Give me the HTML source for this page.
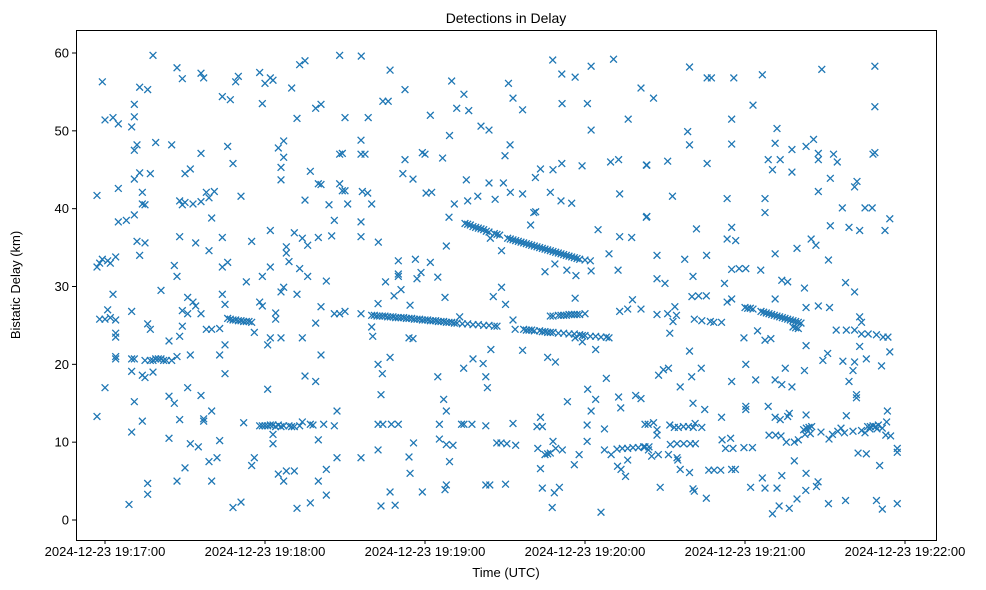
<!DOCTYPE html>
<html><head><meta charset="utf-8"><title>Detections in Delay</title>
<style>
html,body{margin:0;padding:0;background:#fff;}
svg{display:block;font-family:"Liberation Sans","DejaVu Sans",sans-serif;}
</style></head>
<body>
<svg id="chart" width="986" height="590" viewBox="0 0 986 590" xmlns="http://www.w3.org/2000/svg">
<rect x="0" y="0" width="986" height="590" fill="#fff"/>
<text x="506" y="23" text-anchor="middle" font-size="14" fill="#000">Detections in Delay</text>
<g id="marks"></g>
<rect x="76.5" y="30.5" width="860" height="510" fill="none" stroke="#000" stroke-width="1"/>
<g id="xaxis"></g>
<g id="yaxis"></g>
<text x="506" y="577" text-anchor="middle" font-size="13" fill="#000">Time (UTC)</text>
<text x="0" y="0" transform="translate(20,285) rotate(-90)" text-anchor="middle" font-size="13" fill="#000">Bistatic Delay (km)</text>
</svg>
<script>
// time in seconds after 2024-12-23 19:17:00 UTC, delay in km
const xTickSeconds = [0, 60, 120, 180, 240, 300];
const xTickLabels = ["2024-12-23 19:17:00","2024-12-23 19:18:00","2024-12-23 19:19:00","2024-12-23 19:20:00","2024-12-23 19:21:00","2024-12-23 19:22:00"];
const yTickValues = [0, 10, 20, 30, 40, 50, 60];
const yTickLabels = ["0","10","20","30","40","50","60"];

const scatterDetections = [
[-3,41.7],[-3,13.3],[-3,32.5],[-2,33],[-2,25.8],[-1,33.5],[-1,56.3],[0,51.4],[0,17],[0,25.8],[1,27],[1,33.3],[2,26],[2,33],[3,51.7],[3,29],[4,25.7],[4,33.8],[4,23.5],[4,24],[4,21],[4,20.7],[5,42.6],[5,50.9],[5,38.3],[8,38.5],[9,2],[10,11.3],[10,50.5],[10,20.7],[10,19.1],[10,26.8],[11,47.5],[11,53.4],[11,51.8],[11,43.8],[11,39.2],[11,15.2],[11,20.7],[12,35.8],[12,48.2],[13,44.6],[13,55.6],[13,34],[14,12.7],[14,40.6],[14,42.1],[14,18.6],[15,40.5],[15,35.6],[15,20.5],[15,18.3],[16,55.3],[16,25.2],[16,4.7],[16,3.3],[17,44.5],[17,24.5],[17,20.5],[18,59.7],[18,20.5],[18,19],[19,48.5],[19,20.7],[20,20.7],[21,20.7],[21,29.5],[22,20.5],[23,20.5],[24,15.9],[24,23],[24,10.5],[25,48.2],[25,20.5],[26,32.7],[26,15],[27,58.1],[27,5],[27,31.3],[27,21],[28,36.4],[28,41],[28,12.9],[28,23.6],[29,56.7],[29,40.5],[29,26.9],[29,24.9],[30,40.8],[30,6.7],[30,44.5],[31,28.6],[31,17],[31,26.5],[32,45.1],[32,21.2],[32,9.8],[33,28],[33,40.6],[34,27.5],[34,35.6],[35,9.4],[36,57.4],[36,47.1],[36,40.9],[36,26.5],[36,16],[37,56.8],[37,13],[37,12.7],[38,24.5],[38,42.1],[39,41.4],[39,34.6],[39,7.5],[40,5],[40,24.5],[40,38.8],[40,14],[41,42.2],[42,8],[43,24.6],[43,21.2],[43,10.2],[44,54.4],[44,29],[44,32.5],[44,36.3],[45,18.8],[45,27.7],[45,22.5],[46,33.1],[46,48],[47,54],[48,45.8],[48,1.6],[49,56.3],[50,57],[51,41.6],[51,2.3],[52,12.5],[53,30.6],[55,7],[55,35.8],[56,8],[56,24.1],[58,57.5],[58,28],[59,27.5],[59,53.5],[59,31.3],[60,56.1],[61,16.8],[61,22.5],[62,56.8],[62,32.5],[62,37.2],[62,23.4],[63,56.5],[63,11],[63,9.8],[64,26.6],[64,25.8],[65,47.8],[65,5.9],[66,45.3],[66,43.7],[66,23.4],[66,29.3],[67,46.6],[67,29.9],[67,48.7],[67,5],[68,35.1],[68,34.3],[68,6.3],[69,33.2],[70,55.5],[71,36.9],[71,6.3],[72,51.6],[72,29],[72,1.5],[73,32.3],[73,58.5],[74,36.2],[74,23.4],[75,59],[75,41.1],[75,18.5],[76,35.3],[76,31.3],[77,2.2],[77,44.8],[79,25.3],[79,52.9],[79,17.8],[80,5],[80,10.3],[80,36.3],[80,43.2],[81,21.2],[81,53.4],[81,43.1],[81,27.4],[82,12.3],[83,3.2],[83,6.5],[83,30.7],[84,40.5],[85,36.5],[86,38.5],[86,26.5],[86,12.1],[87,14],[87,8],[88,26.5],[88,47],[88,59.7],[88,43.2],[89,47.1],[89,42.3],[90,51.7],[90,42.3],[90,26.8],[91,40.6],
[96.1,59.6],[106.9,57.8],[112.5,55.3],[104.2,53.8],[106.2,53.8],[98.7,51.7],[122,52],[130,56.4],[134.6,54.7],[131.9,52.9],[136.4,52.6],[129.2,49.4],[141,50.6],[144,50.1],[151.3,56.1],[153,54.2],[156.6,52.7],[151.9,48.2],[150,46.8],[167.9,59.1],[171.3,57.3],[176.3,56.9],[182.3,58.3],[190.7,59.2],[171.4,53.5],[180.9,53.5],[182.3,50.1],[201,55.5],[196.2,51.5],[112.5,46.3],[119,47.2],[120,47],[126.6,46.5],[111.7,44.5],[115.5,43.8],[120.4,42],[122.5,42.1],[96,47],[97.5,47],[96,48.8],[96.5,42.2],[98.5,42],[100,40.6],[96,38.3],[96,36.4],[102.5,35.7],[135.5,43.7],[144,43.3],[149.4,43.3],[152,42.1],[156.6,41.9],[131,40.6],[136,41],[139.8,41.6],[146.3,41.2],[129,38.9],[128,35.2],[161.4,44],[163.3,45.1],[168,45],[171.3,45.8],[178.9,45.5],[189.6,46],[192.6,46.3],[203.2,45.6],[167,42.1],[171,41],[175,40.7],[193,41.9],[160.8,39.5],[161.5,39.6],[159.6,37.9],[203.2,39],[148.7,34.6],[144.5,36.2],[184.9,37.3],[193,36.4],[197.5,36.3],[189,34.2],[165,31.9],[168.7,32.9],[173.2,32.1],[176.6,31.4],[182.3,32],[192.4,32.1],[110,33.3],[116.4,33.5],[122,33.1],[105.2,30.6],[110,31.3],[110,31.6],[118.5,31.8],[117,31],[124.8,31.2],[108.4,28.8],[111,29.6],[114.4,27.6],[102.4,27.8],[127.5,28.6],[145.6,28.7],[148.7,29.9],[150.2,27.7],[176.3,28.5],[197.8,28.3],[96,26.5],[100,24.8],[100.4,23.6],[114,23.4],[115.5,23.3],[133,26.1],[153,25.7],[153.8,24.5],[176.3,23.4],[179,22.9],[184,21.9],[156.6,21.8],[193,26.8],[196,27.1],[201,27.1],[102.4,20],[106.9,20.9],[104,18.8],[124.8,18.4],[134.5,19.5],[138,20.7],[141.8,20.1],[142.8,18.4],[143.4,17],[144.7,21.9],[166,20.9],[168.9,20.3],[188,18.2],[103.5,16.1],[127,15.5],[128,14],[173.4,15.2],[181,16.8],[184,15.5],[182.3,14],[192.6,15.8],[193.4,14.4],[199,16],[201,15.6],[102.4,12.3],[104.2,12.3],[107.4,12.3],[110,12.3],[125.4,12.3],[133.7,12.3],[134.6,12.3],[137.6,12.3],[142.8,12.1],[153,12.4],[163.3,13.2],[162,12],[164,12],[180.8,12.2],[187.3,11.7],[203.7,12.3],[102.4,9],[115.7,9.9],[125.4,10.4],[128,9.7],[130.5,9.6],[146.9,9.9],[148.5,9.9],[150.7,9.8],[154,9.6],[162.3,9.2],[165,8.4],[166,8.5],[167,8.6],[169,9.2],[171.5,9],[168,10.1],[177.8,8.4],[176,7.1],[180.8,10.1],[187.3,9],[189.8,8.4],[192.2,6.9],[193.5,6.5],[195.2,5.6],[196,7.7],[114,8.1],[114.4,6],[129.2,7.5],[163.3,6.6],[96,8],[106.9,3.6],[119,3.6],[103.5,1.8],[108.8,1.9],[128,4.5],[127.5,3.9],[142.8,4.5],[144.3,4.5],[150.2,4.6],[164,4.1],[168.5,3.5],[170.4,4.2],[167.7,1.6],[186,1],
[219.2,58.2],[225.8,56.8],[227.4,56.8],[235.8,56.8],[246.5,57.2],[268.8,57.9],[288.7,58.3],[205.7,54.2],[243,53.3],[288.7,53.1],[235,51.5],[218.5,49.9],[219.2,48.2],[235,48.3],[252,50.3],[251.3,48.4],[257.6,47.6],[262.9,48],[265.7,48.9],[267.5,47.1],[267.5,46.3],[273.2,47],[274.6,46],[288,47],[288.7,47.2],[248.7,46.3],[253.2,46.3],[250.3,45],[257.6,44.7],[203,45.6],[211,46.1],[225.8,45.8],[272,43.9],[281.1,42.8],[282,43.5],[267.5,42.2],[212.8,41.6],[233.3,41.3],[247.5,41.3],[247.5,39.5],[203,38.9],[276.5,40.1],[285,40.1],[287.7,40.1],[294.3,38.7],[292.5,37.2],[272,37.8],[279,37.6],[283,37.2],[221.8,37.4],[235,37.6],[233.3,36.1],[236.5,35.9],[207,34],[217.4,33.5],[225.6,34],[251.3,34.2],[259.5,34.9],[264.8,36.1],[266.6,35.3],[271.3,33.4],[235,32.2],[237.8,32.3],[240.3,32.3],[245.9,32.1],[207,31],[210,30.4],[220.5,31.3],[232.3,30.4],[253.8,30.8],[256,30.6],[262.3,29.8],[277.7,30.5],[281.1,29.3],[220.1,28.7],[222.6,28.8],[225.5,28.8],[233.3,28],[235,28.4],[251.3,28.4],[207,26.4],[211,26.5],[213.7,27.4],[214.3,26.3],[213,25.5],[211.8,24],[221,25.8],[223.8,25.6],[227,25.5],[228.3,25.4],[231.2,25.4],[262.9,27.3],[267.5,27.5],[271.7,27.3],[274.2,24.4],[278,24.4],[281.1,24.4],[283.7,23.9],[286.2,23.9],[289.3,23.8],[291.8,23.5],[293.6,23.5],[283,26.1],[283.7,25.4],[262.9,22.4],[239.6,23.4],[244.7,24.3],[247.5,23.1],[249.7,23.3],[219.2,21.7],[283,22.3],[294.3,21.6],[207.6,18.6],[209.4,19.3],[211.3,19.5],[220,18.4],[223.6,19.5],[215.7,17.1],[240.3,20],[235,17.8],[244,18],[251.3,18],[253.8,17.4],[257.6,17.1],[255.1,19.5],[262.3,19.2],[269.2,20.5],[271,21.4],[276.7,20.4],[281.1,20.3],[285.5,20.7],[291.2,19.8],[280.5,19.2],[279,17.8],[281.8,16.1],[281.8,15.7],[240.3,14.6],[240.3,14.2],[248.7,14.6],[220.5,15],[224.9,14.2],[231.2,13.2],[251.3,13.2],[253.2,12.9],[256,13.3],[256.6,13.7],[262.9,13.5],[293.4,14],[293.1,12.6],[278,13.4],[202.5,12.3],[205.7,12.5],[207,11.6],[207,10.9],[211.8,12.2],[213.5,11.9],[215,11.9],[216.9,12],[218.8,12],[220.6,11.9],[221.3,12.4],[223.8,11.9],[249,10.9],[251.5,10.9],[253.5,10.8],[255.5,10],[258.5,10],[260,10.3],[262.5,11],[264.5,11.1],[268.5,11.3],[271.5,10.4],[272.8,11],[274.8,11.4],[276,11.8],[277.3,11.2],[280.5,11.4],[283.7,11.5],[285,11.2],[286.8,11.7],[289.5,11.7],[291.5,11.8],[292.8,10.9],[294.6,10.8],[202.5,9.4],[203.8,9],[205,8.2],[207.5,8.4],[211.3,8.4],[214.5,8],[212,9.7],[214.5,9.8],[217,9.8],[219.5,9.8],[221.4,9.8],[231.4,10.3],[234.6,10.5],[232.7,9.2],[235.5,9.2],[239.6,9.3],[242.8,9.3],[215.7,6.5],[219.2,6.1],[226.4,6.4],[228.4,6.4],[230.9,6.4],[235,6.5],[236.4,6.5],[214.8,7.7],[258.5,7.6],[262.9,6],[282.4,8.6],[285.5,8.5],[290.5,7],[297.1,9.2],[297.1,8.7],[208.2,4.2],[220.5,4],[221,3.7],[225.5,2.8],[242.1,4.2],[246.5,5.4],[247.5,4.1],[252,4.1],[253.8,5.7],[262.8,3.8],[266.8,4.3],[267.4,4.9],[250.3,0.8],[252.8,1.8],[256.6,1.5],[259.5,2.7],[271.3,2.1],[277.7,2.5],[289.3,2.5],[291.5,1.4],[297.1,2.1]
];

const trackDetections = [
[135,38.1],[136,38],[137,37.9],[138,37.7],[139,37.6],[140,37.5],[141,37.4],[142,37.3],[143,37.1],[144,37],[146,36.8],[147,36.7],[148,36.6],[151,36.2],[152,36.1],[153,36],[154,35.9],[155,35.8],[156,35.7],[157,35.6],[158,35.5],[159,35.4],[160,35.3],[161,35.2],[162,35.1],[163,35],[164,34.9],[165,34.8],[166,34.7],[167,34.6],[168,34.5],[169,34.4],[170,34.3],[171,34.2],[172,34.1],[173,34],[174,33.9],[175,33.8],[176,33.7],[177,33.6],[178,33.5],[180,33.4],[182,33.3],
[100,26.3],[101,26.3],[102,26.2],[103,26.2],[104,26.2],[105,26.2],[106,26.1],[107,26.1],[108,26.1],[109,26],[110,26],[111,26],[112,26],[113,25.9],[114,25.9],[115,25.9],[116,25.8],[117,25.8],[118,25.8],[119,25.7],[120,25.7],[121,25.7],[122,25.6],[123,25.6],[124,25.6],[125,25.5],[126,25.5],[127,25.5],[128,25.4],[129,25.4],[130,25.4],[131,25.3],[132,25.3],[134,25.2],[136,25.2],[138,25.1],[140,25.1],[142,25],[144,25],[146,24.9],[147,24.9],
[157,24.5],[158,24.4],[159,24.4],[160,24.4],[161,24.3],[163,24.3],[164,24.2],[165,24.2],[166,24.1],[167,24.1],[168,24.1],[170,24],[172,24],[174,23.9],[176,23.9],[178,23.8],[179,23.7],[180,23.7],[182,23.6],[184,23.6],[186,23.5],[188,23.5],[189,23.4],
[167,26.2],[168,26.2],[170,26.3],[171,26.3],[172,26.3],[173,26.3],[174,26.4],[175,26.4],[176,26.4],[177,26.4],[178,26.4],[180,26.5],
[46,25.9],[47,25.8],[48,25.7],[49,25.7],[50,25.6],[51,25.6],[52,25.5],[53,25.5],[54,25.5],[55,25.4],
[58,12.1],[59,12.1],[60,12.1],[61,12.1],[62,12.2],[63,12.2],[64,12],[65,12.2],[66,12],[67,12.1],[69,12.1],[70,12],[71,12],[73,12.1],[74,12.6],[77,12.3],[78,12.2],
[192,9.1],[194,9.2],[196,9.2],[198,9.3],[200,9.3],[202,9.4],[204,9.4],
[246,26.8],[247,26.7],[248,26.6],[249,26.5],[250,26.4],[251,26.3],[252,26.2],[253,26.1],[254,26],[255,25.9],[256,25.8],[257,25.7],[258,25.6],[259,25.5],[260,25.4],[261,25.3],[258,24.8],[259,24.7],[260,24.6],
[240,27.3],[241,27.2],[242,27.2],[243,27.1],
[262,11.6],[263,11.8],[264,11.9],[265,12],[286,12],[287,12],[288,12.1],[289,12],[290,12.2]
];

const NS = "http://www.w3.org/2000/svg";
const plot = {left: 76, right: 936, top: 30, bottom: 540};
function xScale(t){ return 105 + (t - 0) * (160 / 60); }
function yScale(k){ return 520 - k * (467 / 60); }

const marks = document.getElementById('marks');
function drawX(p, i, name){
  const cx = xScale(p[0]), cy = yScale(p[1]), h = 3.4;
  const path = document.createElementNS(NS, 'path');
  path.setAttribute('d', `M${cx-h},${cy-h}L${cx+h},${cy+h}M${cx-h},${cy+h}L${cx+h},${cy-h}`);
  path.setAttribute('stroke', '#1f77b4');
  path.setAttribute('stroke-width', '1.3');
  path.setAttribute('fill', 'none');
  
  
  marks.appendChild(path);
}
scatterDetections.forEach((p, i) => drawX(p, i, 'detection-marker'));
trackDetections.forEach((p, i) => drawX(p, i, 'track-detection-marker'));

const xaxis = document.getElementById('xaxis');
xTickSeconds.forEach((t, i) => {
  const x = xScale(t);
  const ln = document.createElementNS(NS, 'line');
  ln.setAttribute('x1', x); ln.setAttribute('x2', x);
  ln.setAttribute('y1', plot.bottom); ln.setAttribute('y2', plot.bottom + 4);
  ln.setAttribute('stroke', '#000');
  
  
  xaxis.appendChild(ln);
  const tx = document.createElementNS(NS, 'text');
  tx.setAttribute('x', x); tx.setAttribute('y', plot.bottom + 16);
  tx.setAttribute('text-anchor', 'middle');
  tx.setAttribute('font-size', '13');
  tx.textContent = xTickLabels[i];
  
  
  xaxis.appendChild(tx);
});
const yaxis = document.getElementById('yaxis');
yTickValues.forEach((v, i) => {
  const y = yScale(v);
  const ln = document.createElementNS(NS, 'line');
  ln.setAttribute('x1', plot.left - 4); ln.setAttribute('x2', plot.left);
  ln.setAttribute('y1', y); ln.setAttribute('y2', y);
  ln.setAttribute('stroke', '#000');
  
  
  yaxis.appendChild(ln);
  const tx = document.createElementNS(NS, 'text');
  tx.setAttribute('x', plot.left - 7); tx.setAttribute('y', y + 4.5);
  tx.setAttribute('text-anchor', 'end');
  tx.setAttribute('font-size', '13');
  tx.textContent = yTickLabels[i];
  
  
  yaxis.appendChild(tx);
});
</script>
</body></html>
